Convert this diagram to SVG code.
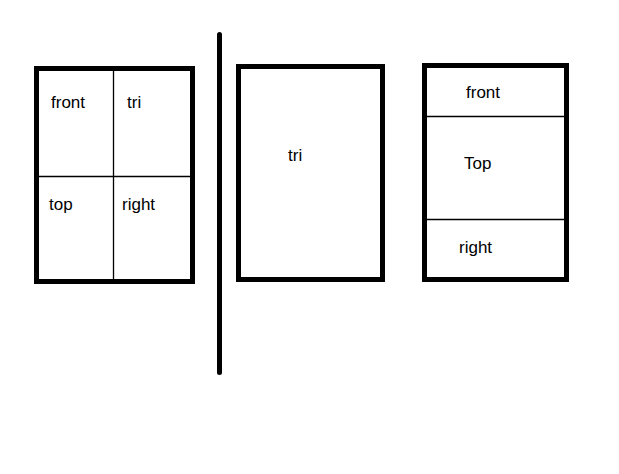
<svg xmlns="http://www.w3.org/2000/svg" width="619" height="474" viewBox="0 0 619 474">
<style>
.frame{fill:#fff;stroke:#000;stroke-width:5}
.div{stroke:#000;stroke-width:1.3;fill:none}
text{font-family:"Liberation Sans",Arial,sans-serif;font-size:17px;fill:#000}
</style>
<rect width="619" height="474" fill="#fff"/>
<g id="connectors">
<line x1="219.5" y1="34.5" x2="219.5" y2="372.5" stroke="#000" stroke-width="5" stroke-linecap="round"/>
</g>
<g id="layout-grid">
<rect class="frame" x="36.5" y="68.5" width="156" height="213"/>
<line class="div" x1="113.5" y1="71" x2="113.5" y2="279"/>
<line class="div" x1="39" y1="176.5" x2="190" y2="176.5"/>
<text x="51" y="108">front</text>
<text x="127" y="108">tri</text>
<text x="49" y="210">top</text>
<text x="122" y="210">right</text>
</g>
<g id="layout-single">
<rect class="frame" x="238.5" y="66.5" width="144" height="213"/>
<text x="288" y="161">tri</text>
</g>
<g id="layout-stack">
<rect class="frame" x="424.5" y="65.5" width="142" height="214"/>
<line class="div" x1="427" y1="116.5" x2="564" y2="116.5"/>
<line class="div" x1="427" y1="219.5" x2="564" y2="219.5"/>
<text x="466" y="98">front</text>
<text x="464" y="169">Top</text>
<text x="459" y="253">right</text>
</g>
</svg>
